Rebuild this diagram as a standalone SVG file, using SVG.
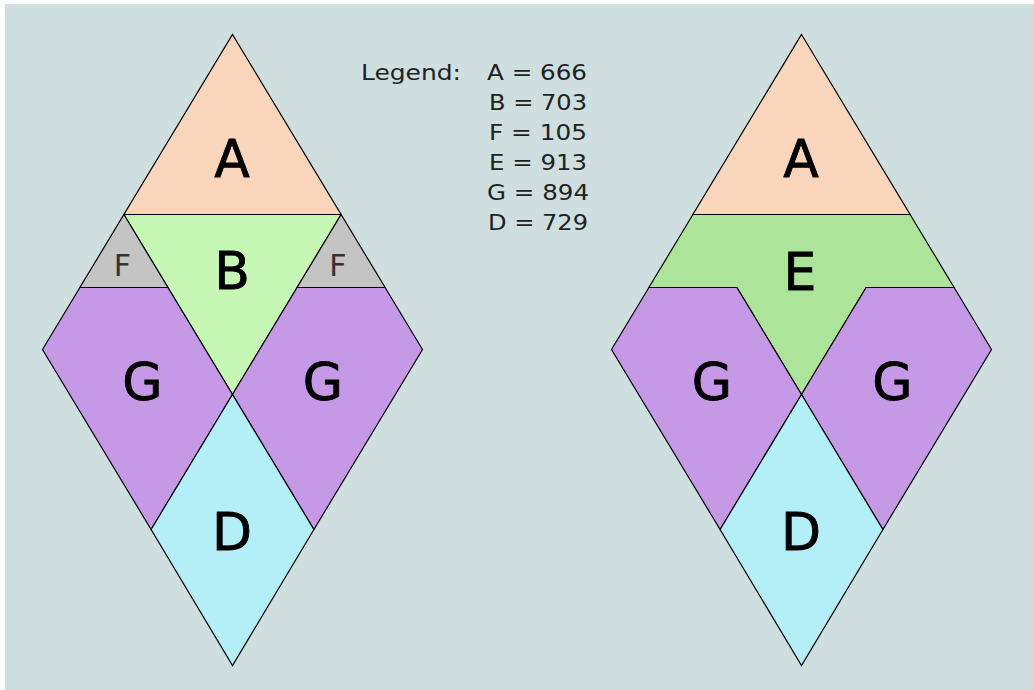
<svg xmlns="http://www.w3.org/2000/svg" width="1034" height="690" viewBox="0 0 1034 690">
<style>
.p{stroke:#000;stroke-width:1.2;stroke-linejoin:miter}
.a{fill:#F9D6BB}.b{fill:#C6F7B5}.f{fill:#C4C4C4}.g{fill:#C599E5}.d{fill:#B4EFF7}.e{fill:#ACE49A}
.big{font-family:"DejaVu Sans",Verdana,sans-serif;font-size:52px;fill:#000;stroke:#000;stroke-width:0.8;text-anchor:middle}
.sm{font-family:"DejaVu Sans",Verdana,sans-serif;font-size:30px;fill:#333;text-anchor:middle}
.lg{font-family:"DejaVu Sans",Verdana,sans-serif;font-size:22px;fill:#222}
</style>
<rect x="0" y="0" width="1034" height="690" fill="#FFFFFF"/>
<rect x="5" y="4" width="1029" height="686" fill="#CFDEDE"/>
<g id="left">
  <g id="L-A"><polygon class="p a" points="232.5,34.5 341.1,214.5 123.9,214.5"/><text class="big" x="232" y="177">A</text></g>
  <g id="L-B"><polygon class="p b" points="123.9,214.5 341.1,214.5 232.5,394.5"/><text class="big" x="232" y="289">B</text></g>
  <g id="L-F1"><polygon class="p f" points="123.9,214.5 167.9,287.5 79.9,287.5"/><text class="sm" x="122.5" y="276">F</text></g>
  <g id="L-F2"><polygon class="p f" points="341.1,214.5 385.1,287.5 297.1,287.5"/><text class="sm" x="338" y="276">F</text></g>
  <g id="L-G1"><polygon class="p g" points="79.9,287.5 167.9,287.5 232.5,394.5 151.1,529.5 42.5,349.5"/><text class="big" x="142.5" y="400">G</text></g>
  <g id="L-G2"><polygon class="p g" points="297.1,287.5 385.1,287.5 422.5,349.5 313.9,529.5 232.5,394.5"/><text class="big" x="323" y="400">G</text></g>
  <g id="L-D"><polygon class="p d" points="232.5,394.5 313.9,529.5 232.5,665.5 151.1,529.5"/><text class="big" x="232" y="550">D</text></g>
</g>
<g id="right">
  <g id="R-A"><polygon class="p a" points="801.5,34.5 910.1,214.5 692.9,214.5"/><text class="big" x="801" y="177">A</text></g>
  <g id="R-E"><polygon class="p e" points="692.9,214.5 910.1,214.5 954.1,287.5 866.1,287.5 801.5,394.5 736.9,287.5 648.9,287.5"/><text class="big" x="800" y="290">E</text></g>
  <g id="R-G1"><polygon class="p g" points="648.9,287.5 736.9,287.5 801.5,394.5 720.1,529.5 611.5,349.5"/><text class="big" x="712" y="400">G</text></g>
  <g id="R-G2"><polygon class="p g" points="866.1,287.5 954.1,287.5 991.5,349.5 882.9,529.5 801.5,394.5"/><text class="big" x="892.5" y="400">G</text></g>
  <g id="R-D"><polygon class="p d" points="801.5,394.5 882.9,529.5 801.5,665.5 720.1,529.5"/><text class="big" x="801" y="550">D</text></g>
</g>
<g id="legend">
  <text class="lg" x="361" y="80" textLength="100" lengthAdjust="spacingAndGlyphs">Legend:</text>
  <text class="lg" x="487" y="80" textLength="100" lengthAdjust="spacingAndGlyphs">A = 666</text>
  <text class="lg" x="489" y="110" textLength="98" lengthAdjust="spacingAndGlyphs">B = 703</text>
  <text class="lg" x="489" y="140" textLength="98" lengthAdjust="spacingAndGlyphs">F = 105</text>
  <text class="lg" x="489" y="170" textLength="98" lengthAdjust="spacingAndGlyphs">E = 913</text>
  <text class="lg" x="487" y="200" textLength="102" lengthAdjust="spacingAndGlyphs">G = 894</text>
  <text class="lg" x="488" y="230" textLength="100" lengthAdjust="spacingAndGlyphs">D = 729</text>
</g>
</svg>
